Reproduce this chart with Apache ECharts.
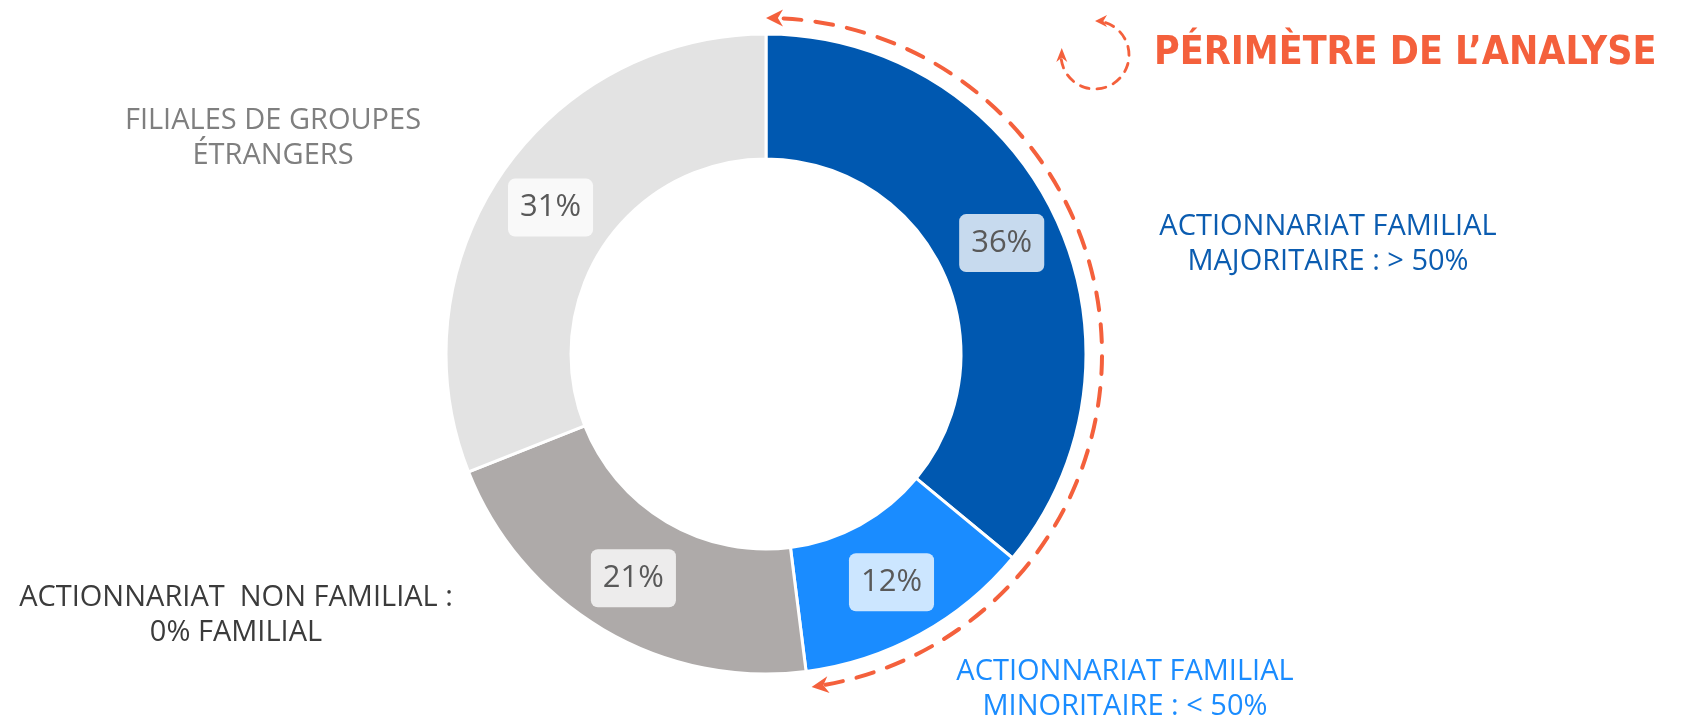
<!DOCTYPE html>
<html>
<head>
<meta charset="utf-8">
<script src="https://cdn.jsdelivr.net/npm/echarts@6/dist/echarts.min.js"></script>
<style>
  html, body { margin: 0; padding: 0; background: #fff; }
  #chart { width: 1683px; height: 718px; }
</style>
</head>
<body>
<div id="chart"></div>
<script>
  // données
  let categories = [
    'ACTIONNARIAT FAMILIAL\nMAJORITAIRE : > 50%',
    'ACTIONNARIAT FAMILIAL\nMINORITAIRE : < 50%',
    'ACTIONNARIAT  NON FAMILIAL :\n0% FAMILIAL',
    'FILIALES DE GROUPES\nÉTRANGERS'
  ];
  let values = [36, 12, 21, 31];
  let inScope = [true, true, false, false];   // parts dans le périmètre de l'analyse
  let titleText = 'PÉRIMÈTRE DE L’ANALYSE';

  // styles
  let sliceColors = ['#0058b0', '#1a8cff', '#aeaaa9', '#e3e3e3'];
  let nameColors = ['#0b5cb0', '#1a8cff', '#3b3b3b', '#7f7f7f'];
  let accent = '#f4603c';
  let font = '"Open Sans", sans-serif';

  let cx = 766, cy = 354, r0 = 195, r1 = 320;
  let arcR = 336;
  let namePos = [[1328, 244], [1125, 689], [236, 615], [273, 138]];

  let total = values.reduce((a, b) => a + b, 0);
  let scopeShare = values.filter((v, i) => inScope[i]).reduce((a, b) => a + b, 0);
  let scopeDeg = scopeShare / total * 360;

  // pointe de flèche : sommet (x, y), direction (dx, dy)
  function arrowHead(x, y, dx, dy, len, wid) {
    let nx = -dy, ny = dx;
    let bx = x - dx * len, by = y - dy * len;
    return {
      type: 'polygon',
      silent: true,
      shape: {
        points: [
          [x, y],
          [bx + nx * wid / 2, by + ny * wid / 2],
          [x - dx * len * 0.7, y - dy * len * 0.7],
          [bx - nx * wid / 2, by - ny * wid / 2]
        ]
      },
      style: { fill: accent }
    };
  }

  let graphics = [];

  // grand arc pointillé autour des parts familiales
  let rad = Math.PI / 180;
  graphics.push({
    type: 'arc',
    silent: true,
    shape: {
      cx: cx, cy: cy, r: arcR,
      startAngle: (-90 + 3) * rad,
      endAngle: (-90 + scopeDeg - 3) * rad,
      clockwise: true
    },
    style: { stroke: accent, fill: 'none', lineWidth: 4, lineDash: [18, 14], lineCap: 'round' }
  });
  // flèche en haut (vers la gauche)
  graphics.push(arrowHead(cx, cy - arcR, -1, 0, 17, 17));
  // flèche en bas (sens horaire)
  let e = (scopeDeg - 0.6) * rad;
  graphics.push(arrowHead(cx + arcR * Math.sin(e), cy - arcR * Math.cos(e), Math.cos(e), Math.sin(e), 17, 17));

  // petite icône circulaire
  let ix = 1095, iy = 55, ir = 34;
  graphics.push({
    type: 'arc',
    silent: true,
    shape: { cx: ix, cy: iy, r: ir, startAngle: -72 * rad, endAngle: 172 * rad, clockwise: true },
    style: { stroke: accent, fill: 'none', lineWidth: 2.8, lineDash: [9, 8], lineCap: 'round' }
  });
  graphics.push(arrowHead(ix, iy - ir, -1, 0, 12, 12));
  let f = 192 * rad;
  graphics.push(arrowHead(ix + ir * Math.cos(f), iy + ir * Math.sin(f), 0, -1, 14, 11));

  let myChart = echarts.init(document.getElementById('chart'));
  let option = {
    backgroundColor: '#fff',
    animation: false,
    title: {
      text: titleText,
      left: 1154,
      top: 34,
      padding: 0,
      textStyle: {
        color: accent,
        fontFamily: '"Liberation Sans Narrow", "DejaVu Sans Condensed", sans-serif',
        fontWeight: 'bold',
        fontSize: 39,
        lineHeight: 40
      }
    },
    graphic: graphics,
    series: [
      {
        type: 'pie',
        center: [cx, cy],
        radius: [r0, r1],
        startAngle: 90,
        clockwise: true,
        silent: true,
        itemStyle: { borderColor: '#fff', borderWidth: 3 },
        label: {
          show: true,
          position: 'inside',
          formatter: '{c}%',
          color: '#595959',
          fontFamily: font,
          fontSize: 31,
          lineHeight: 40,
          backgroundColor: 'rgba(255,255,255,0.78)',
          borderRadius: 7,
          padding: [9, 12, 9, 12]
        },
        labelLine: { show: false },
        data: values.map((v, i) => ({
          name: categories[i],
          value: v,
          itemStyle: { color: sliceColors[i] }
        }))
      },
      {
        // noms des catégories autour de l'anneau
        type: 'pie',
        center: [cx, cy],
        radius: [r0, r1],
        startAngle: 90,
        silent: true,
        z: 1,
        itemStyle: { color: 'rgba(0,0,0,0)', borderWidth: 0 },
        label: {
          show: true,
          position: 'outside',
          formatter: '{b}',
          fontFamily: font,
          fontSize: 29,
          lineHeight: 35,
          align: 'center'
        },
        labelLine: { show: false },
        labelLayout: function (p) {
          return {
            x: namePos[p.dataIndex][0],
            y: namePos[p.dataIndex][1],
            align: 'center',
            verticalAlign: 'middle'
          };
        },
        data: values.map((v, i) => ({
          name: categories[i],
          value: v,
          label: { color: nameColors[i] }
        }))
      }
    ]
  };
  myChart.setOption(option);
</script>
</body>
</html>
